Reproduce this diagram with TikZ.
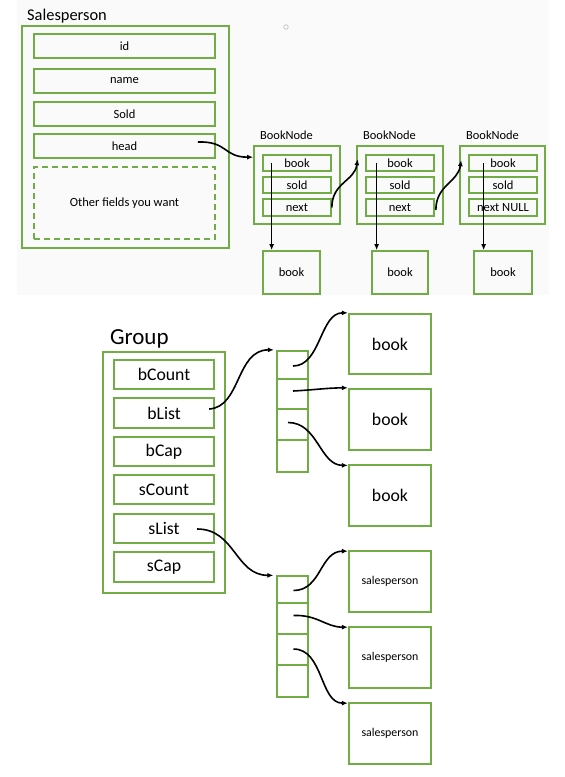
\documentclass[tikz,border=0pt]{standalone}
\usepackage{fontspec}
\setmainfont{Carlito}
\usetikzlibrary{arrows.meta,calc}
\definecolor{grn}{HTML}{70AD47}
\newcommand\ubox[7]{\node[#2,minimum width={#5-#3},minimum height={#6-#4}] (#1) at ({(#3+#5)/2},{(#4+#6)/2}) {#7};}
\begin{document}
\begin{tikzpicture}[x=1pt,y=-1pt,
  tbox/.style={draw=grn,line width=1.7pt,inner sep=0pt,align=center,font=\fontsize{12.5}{14}\selectfont},
  tdash/.style={tbox,dash pattern=on 6pt off 4pt},
  gbox/.style={draw=grn,line width=2.3pt,inner sep=0pt,align=center,font=\fontsize{17.7}{20}\selectfont},
  sbox/.style={gbox,font=\fontsize{11.9}{14}\selectfont},
  cell/.style={draw=grn,line width=2.3pt,inner sep=0pt},
  arr/.style={draw=black,line width=1.6pt,-{Latex[length=6pt,width=5pt]}},
  ttl/.style={anchor=base west,inner sep=0pt}
]
\useasboundingbox (0,0) rectangle (565,777);
% light background of the top screenshot
\fill[black!2] (17,0) rectangle (549,295);
\node[circle,draw=black!25,line width=0.7pt,inner sep=0pt,minimum size=4.5pt] (dot) at (286,27) {};

% ---------- Salesperson ----------
\node[ttl,font=\fontsize{16.4}{18}\selectfont] (splabel) at (27,20) {Salesperson};
\ubox{sp}{tbox}{22}{26}{229}{248}{}
\ubox{id}{tbox}{34}{34}{215}{58}{id}
\ubox{name}{tbox}{34}{69}{215}{93}{name}
\ubox{sold}{tbox}{34}{102}{215}{126}{Sold}
\ubox{head}{tbox}{34}{134}{215}{158}{head}
\ubox{other}{tdash}{34}{167}{215}{239}{Other fields you want}

% ---------- BookNodes ----------
\node[ttl,font=\fontsize{12.4}{14}\selectfont] (bnl1) at (260,139.5) {BookNode};
\node[ttl,font=\fontsize{12.4}{14}\selectfont] (bnl2) at (363,139.5) {BookNode};
\node[ttl,font=\fontsize{12.4}{14}\selectfont] (bnl3) at (466,139.5) {BookNode};

\ubox{bn1}{tbox}{254}{146}{340}{224}{}
\ubox{bn2}{tbox}{357}{146}{443}{224}{}
\ubox{bn3}{tbox}{460}{146}{545}{224}{}

\ubox{bn1book}{tbox}{263}{155}{331}{171}{book}
\ubox{bn1sold}{tbox}{263}{177}{331}{193}{sold}
\ubox{bn1next}{tbox}{263}{199}{331}{216}{next}
\ubox{bn2book}{tbox}{366}{155}{434}{171}{book}
\ubox{bn2sold}{tbox}{366}{177}{434}{193}{sold}
\ubox{bn2next}{tbox}{366}{199}{434}{216}{next}
\ubox{bn3book}{tbox}{469}{155}{537}{171}{book}
\ubox{bn3sold}{tbox}{469}{177}{537}{193}{sold}
\ubox{bn3next}{tbox}{469}{199}{537}{216}{next NULL}

\ubox{tb1}{tbox}{263}{251}{320}{294}{book}
\ubox{tb2}{tbox}{372}{251}{428}{294}{book}
\ubox{tb3}{tbox}{474}{251}{532}{294}{book}

\draw[arr] ($(head.east)+(-18,-4)$) .. controls +(30,-1) and +(-30,0) .. ($(bn1.north west)+(0,12)$);
\draw[arr] ($(bn1next.east)+(0,0)$) .. controls +(0,-25) and +(-3,22) .. ($(bn2.north west)+(1.5,14)$);
\draw[arr] ($(bn2next.east)+(1,2.5)$) .. controls +(0,-25) and +(-3,22) .. ($(bn3.north west)+(2,15)$);

\coordinate (v1) at ($(bn1book.west)+(9.5,0)$);
\coordinate (v2) at ($(bn2book.west)+(11.5,0)$);
\coordinate (v3) at ($(bn3book.west)+(15.5,0)$);
\draw[arr] (v1) -- (v1 |- tb1.north);
\draw[arr] (v2) -- (v2 |- tb2.north);
\draw[arr] (v3) -- (v3 |- tb3.north);

% ---------- Group ----------
\node[ttl,font=\fontsize{23}{26}\selectfont] (glabel) at (110,344) {Group};
\ubox{grp}{gbox}{103}{352}{225}{593}{}
\ubox{bcount}{gbox}{114}{360}{214}{389}{bCount}
\ubox{blist}{gbox}{114}{398}{214}{428}{bList}
\ubox{bcap}{gbox}{114}{437}{214}{466}{bCap}
\ubox{scount}{gbox}{114}{475}{214}{504}{sCount}
\ubox{slist}{gbox}{114}{514}{214}{543}{sList}
\ubox{scap}{gbox}{114}{552}{214}{582}{sCap}

% arrays
\ubox{a1c1}{cell}{277}{351}{308}{379}{}
\ubox{a1c2}{cell}{277}{379}{308}{409}{}
\ubox{a1c3}{cell}{277}{409}{308}{440}{}
\ubox{a1c4}{cell}{277}{440}{308}{472}{}
\ubox{a2c1}{cell}{277}{576}{308}{603}{}
\ubox{a2c2}{cell}{277}{603}{308}{634}{}
\ubox{a2c3}{cell}{277}{634}{308}{665}{}
\ubox{a2c4}{cell}{277}{665}{308}{697}{}

% targets
\ubox{bk1}{gbox}{349}{314}{431}{374}{book}
\ubox{bk2}{gbox}{349}{389}{431}{450}{book}
\ubox{bk3}{gbox}{349}{465}{431}{526}{book}
\ubox{sp1}{sbox}{349}{551}{431}{612}{salesperson}
\ubox{sp2}{sbox}{349}{627}{431}{688}{salesperson}
\ubox{sp3}{sbox}{349}{703}{431}{764}{salesperson}

\draw[arr] ($(blist.east)+(-6,-4)$) .. controls +(32,-2) and +(-38,0) .. ($(a1c1.north west)+(-2,0)$);
\draw[arr] ($(slist.east)+(-18,0.5)$) .. controls +(38,0) and +(-38,0) .. ($(a2c1.north west)+(-2.5,0.5)$);

\draw[arr] ($(a1c1.center)+(0.5,1)$) .. controls +(28,0) and +(-28,0) .. (bk1.north west);
\draw[arr] ($(a1c2.center)+(0.5,-3)$) .. controls +(20,-1) and +(-20,0) .. (bk2.north west);
\draw[arr] ($(a1c3.center)+(-4.5,-2)$) .. controls +(30,0) and +(-28,0) .. ($(bk3.north west)+(0,1.5)$);

\draw[arr] ($(a2c1.center)+(1,1)$) .. controls +(28,0) and +(-28,0) .. ($(sp1.north west)+(0,1.3)$);
\draw[arr] ($(a2c2.center)+(1,-3)$) .. controls +(24,-1) and +(-22,0) .. ($(sp2.north west)+(0,1.3)$);
\draw[arr] ($(a2c3.center)+(1,-0.5)$) .. controls +(30,0) and +(-28,0) .. ($(sp3.north west)+(0,1.3)$);
\end{tikzpicture}
\end{document}
